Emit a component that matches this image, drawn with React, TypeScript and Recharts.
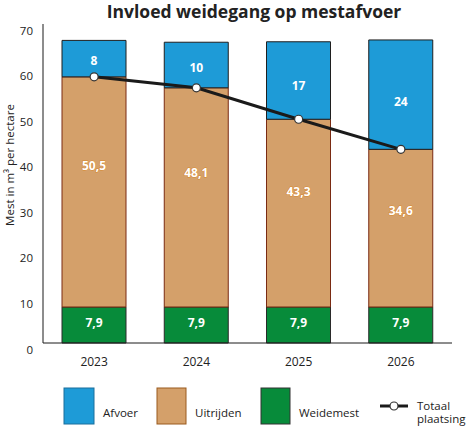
import React from "react";
import {
  ComposedChart,
  Bar,
  Line,
  XAxis,
  YAxis,
  Legend,
  LabelList,
} from "recharts";

const years = ["2023", "2024", "2025", "2026"];
const weidemest = [7.9, 7.9, 7.9, 7.9];
const uitrijden = [50.5, 48.1, 41.2, 34.6];
const afvoer = [8, 10, 17, 24];
const totaal = [58.4, 56.0, 49.1, 42.5];

const weidemestLabels = ["7,9", "7,9", "7,9", "7,9"];
const uitrijdenLabels = ["50,5", "48,1", "43,3", "34,6"];
const afvoerLabels = ["8", "10", "17", "24"];

const yTicks = [0, 10, 20, 30, 40, 50, 60, 70];
const edgeTicks = [1, 2, 3, 4];

const BLUE = "#1e9bd7";
const TAN = "#d4a06a";
const GREEN = "#078b3a";
const FONT = "'Open Sans', sans-serif";

const data = years.map((year, i) => ({
  year,
  weidemest: weidemest[i],
  uitrijden: uitrijden[i],
  afvoer: afvoer[i],
  totaal: totaal[i],
  weidemestLabel: weidemestLabels[i],
  uitrijdenLabel: uitrijdenLabels[i],
  afvoerLabel: afvoerLabels[i],
}));

// label placed at a fraction of the segment height
const segLabel = (frac: number, halo?: string) => (props: any) => {
  const { x, y, width, height, value } = props;
  return (
    <text
      x={x + width / 2}
      y={y + height * frac}
      textAnchor="middle"
      dominantBaseline="central"
      fill="#fff"
      stroke={halo || "none"}
      strokeWidth={halo ? 1 : 0}
      paintOrder="stroke"
      fontFamily={FONT}
      fontWeight={700}
      fontSize={12}
    >
      {value}
    </text>
  );
};

const YTick = (props: any) => {
  const { x, y, payload } = props;
  return (
    <text
      x={x}
      y={y + 6}
      textAnchor="end"
      dominantBaseline="central"
      fill="#222"
      fontFamily={FONT}
      fontSize={11.5}
    >
      {payload.value}
    </text>
  );
};

const YLabel = () => (
  <text
    x={9}
    y={165}
    transform="rotate(-90, 9, 165)"
    textAnchor="middle"
    dominantBaseline="central"
    fill="#222"
    fontFamily={FONT}
    fontSize={11.5}
  >
    Mest in m³ per hectare
  </text>
);

const legendText = {
  fontFamily: FONT,
  fontSize: 11.5,
  fill: "#222",
};

const renderLegend = () => (
  <svg width={470} height={51}>
    <rect x={64} y={8} width={30} height={36} fill={BLUE} stroke="#1a6f9c" />
    <text x={103} y={32} dominantBaseline="central" {...legendText}>Afvoer</text>
    <rect x={157} y={8} width={29} height={36} fill={TAN} stroke="#9a5a1e" />
    <text x={195} y={32} dominantBaseline="central" {...legendText}>Uitrijden</text>
    <rect x={261} y={8} width={29} height={36} fill={GREEN} stroke="#333" />
    <text x={299} y={32} dominantBaseline="central" {...legendText}>Weidemest</text>
    <line x1={380} y1={26} x2={408} y2={26} stroke="#1a1a1a" strokeWidth={3} />
    <circle cx={394} cy={26} r={4} fill="#fff" stroke="#333" strokeWidth={1.2} />
    <text x={417} y={25} dominantBaseline="central" {...legendText}>Totaal</text>
    <text x={417} y={38.5} dominantBaseline="central" {...legendText}>plaatsing</text>
  </svg>
);

export default function App() {
  return (
    <div style={{ position: "absolute", left: 0, top: 0, width: 470, height: 431, background: "#fff" }}>
      <div
        style={{
          position: "absolute",
          left: 254,
          top: -1,
          transform: "translateX(-50%)",
          whiteSpace: "nowrap",
          fontFamily: FONT,
          fontWeight: 700,
          fontSize: 17.5,
          color: "#222",
          zIndex: 2,
        }}
      >
        Invloed weidegang op mestafvoer
      </div>
      <ComposedChart
        width={470}
        height={431}
        data={data}
        margin={{ top: 24, right: 18, left: 0, bottom: 58 }}
        barCategoryGap={0}
      >
        <XAxis
          dataKey="year"
          height={30}
          tickLine={false}
          tickMargin={8}
          axisLine={{ stroke: "#1a1a1a" }}
          tick={{ fill: "#222", fontSize: 12, fontFamily: FONT }}
        />
        <XAxis
          xAxisId="edges"
          type="number"
          domain={[0, 4]}
          ticks={edgeTicks}
          height={0}
          mirror
          tick={false}
          tickSize={9}
          axisLine={false}
          tickLine={{ stroke: "#1a1a1a" }}
        />
        <YAxis
          domain={[0, 70]}
          ticks={yTicks}
          width={43}
          tickLine={false}
          tickMargin={4}
          axisLine={{ stroke: "#1a1a1a" }}
          tick={<YTick />}
          label={<YLabel />}
        />
        <YAxis
          yAxisId="marks"
          domain={[0, 70]}
          ticks={yTicks}
          width={0}
          mirror
          tick={false}
          tickSize={14}
          axisLine={false}
          tickLine={{ stroke: "#333" }}
        />
        <Bar dataKey="weidemest" stackId="a" barSize={64} fill={GREEN} stroke="#2a2a2a" isAnimationActive={false}>
          <LabelList dataKey="weidemestLabel" content={segLabel(0.42)} />
        </Bar>
        <Bar dataKey="uitrijden" stackId="a" barSize={64} fill={TAN} stroke="#7a2a12" isAnimationActive={false}>
          <LabelList dataKey="uitrijdenLabel" content={segLabel(0.385, "#d9892b")} />
        </Bar>
        <Bar dataKey="afvoer" stackId="a" barSize={64} fill={BLUE} stroke="#1f1f1f" isAnimationActive={false}>
          <LabelList dataKey="afvoerLabel" content={segLabel(0.56)} />
        </Bar>
        <Line
          dataKey="totaal"
          stroke="#1a1a1a"
          strokeWidth={3}
          dot={{ r: 4, fill: "#fff", stroke: "#333", strokeWidth: 1.2 }}
          isAnimationActive={false}
        />
        <Legend
          verticalAlign="middle"
          align="center"
          layout="horizontal"
          content={renderLegend}
          wrapperStyle={{ left: 0, top: 380, width: 470, height: 51 }}
        />
      </ComposedChart>
    </div>
  );
}
